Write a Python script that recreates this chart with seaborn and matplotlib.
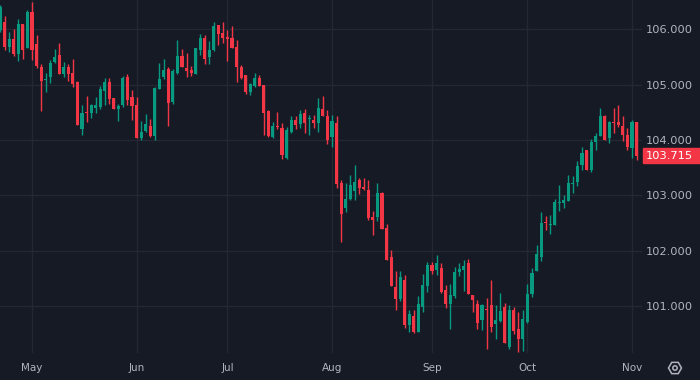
import numpy as np
import pandas as pd
import matplotlib
matplotlib.use("Agg")
import matplotlib.pyplot as plt
from matplotlib.patches import Rectangle, RegularPolygon, Circle
import seaborn as sns

# daily candles, Apr 22 -> Nov 4 (business days)
open_ = [105.99, 106.14, 105.68, 105.83, 105.56, 106.10, 105.67, 106.32, 105.74, 105.32,
         105.08, 105.14, 105.41, 105.54, 105.20, 105.32, 105.21, 105.05, 104.20, 104.51,
         104.49, 104.58, 104.60, 104.89, 105.05, 104.76, 104.56, 104.63, 105.14, 104.78,
         104.63, 104.04, 104.16, 104.25, 104.07, 104.92, 105.14, 105.29, 104.69, 105.21,
         105.52, 105.30, 105.27, 105.20, 105.63, 105.85, 105.50, 105.63, 106.08, 105.94,
         105.86, 105.85, 105.68, 105.32, 105.18, 104.87, 104.98, 105.12, 105.00, 104.53,
         104.06, 104.25, 104.22, 103.68, 104.15, 104.36, 104.29, 104.49, 104.38, 104.36,
         104.31, 104.56, 104.44, 104.06, 104.31, 103.22, 102.77, 102.93, 103.08, 103.28,
         103.15, 103.10, 102.61, 102.61, 103.04, 102.41, 101.89, 101.34, 101.13, 101.47,
         100.66, 100.82, 100.53, 100.98, 101.36, 101.74, 101.65, 101.69, 101.29, 101.04,
         101.18, 101.61, 101.65, 101.78, 101.20, 101.04, 100.75, 100.95, 101.02, 100.67,
         100.73, 100.98, 100.26, 100.93, 100.58, 100.40, 100.71, 101.22, 101.63, 101.89,
         102.52, 102.46, 102.46, 102.86, 102.86, 102.90, 103.21, 103.24, 103.55, 103.82,
         103.46, 103.97, 104.07, 104.44, 104.04, 104.33, 104.33, 104.25, 104.09, 103.86,
         104.33]
high = [106.44, 106.24, 105.95, 106.01, 106.19, 106.10, 106.35, 106.50, 105.90, 105.38,
        105.21, 105.45, 105.65, 105.76, 105.41, 105.38, 105.47, 105.07, 104.63, 104.80,
        104.65, 104.78, 104.98, 105.12, 105.12, 104.76, 104.65, 105.16, 105.20, 104.91,
        104.78, 104.35, 104.47, 104.38, 104.96, 105.39, 105.47, 105.32, 105.29, 105.81,
        105.65, 105.58, 105.34, 105.67, 105.92, 105.90, 105.79, 106.14, 106.08, 106.14,
        105.99, 106.06, 105.81, 105.36, 105.18, 105.03, 105.21, 105.18, 105.00, 104.54,
        104.33, 104.51, 104.31, 104.24, 104.44, 104.44, 104.54, 104.56, 104.45, 104.45,
        104.76, 104.80, 104.54, 104.45, 104.44, 103.28, 103.22, 103.37, 103.55, 103.31,
        103.31, 103.28, 102.72, 103.22, 103.06, 102.48, 102.01, 101.63, 101.63, 101.56,
        100.93, 100.93, 101.18, 101.58, 101.80, 101.80, 101.92, 101.78, 101.38, 101.40,
        101.71, 101.78, 101.83, 101.85, 101.20, 101.11, 101.04, 101.14, 101.47, 101.02,
        101.24, 101.05, 101.02, 100.98, 100.89, 100.93, 101.40, 101.69, 102.10, 102.70,
        102.63, 102.65, 102.93, 103.19, 103.01, 103.37, 103.35, 103.62, 103.88, 103.82,
        104.02, 104.13, 104.58, 104.45, 104.35, 104.58, 104.63, 104.44, 104.22, 104.36,
        104.33]
low = [105.95, 105.63, 105.59, 105.52, 105.43, 105.47, 105.67, 105.45, 105.30, 104.53,
       104.87, 105.03, 105.39, 105.20, 105.14, 105.07, 104.96, 104.27, 104.09, 104.33,
       104.40, 104.49, 104.56, 104.63, 104.65, 104.56, 104.35, 104.60, 104.63, 104.36,
       104.04, 104.00, 104.15, 104.06, 104.00, 104.92, 105.10, 104.25, 104.65, 105.20,
       105.32, 105.14, 105.16, 105.20, 105.54, 105.38, 105.38, 105.61, 105.72, 105.76,
       105.43, 105.67, 105.05, 105.10, 104.83, 104.82, 104.96, 104.98, 104.09, 104.06,
       104.04, 104.20, 103.66, 103.66, 104.13, 104.20, 104.22, 104.13, 104.09, 104.22,
       104.15, 104.44, 103.93, 103.88, 103.13, 102.16, 102.70, 102.92, 102.92, 103.03,
       103.10, 102.56, 102.28, 102.54, 102.39, 101.83, 101.36, 100.93, 101.09, 100.60,
       100.53, 100.51, 100.53, 100.89, 101.25, 101.58, 101.56, 101.24, 100.96, 100.58,
       101.14, 101.54, 101.27, 101.22, 100.89, 100.58, 100.57, 100.22, 100.53, 100.40,
       100.71, 100.33, 100.22, 100.49, 100.17, 100.19, 100.69, 101.16, 101.63, 101.81,
       102.37, 102.30, 102.46, 102.72, 102.77, 102.90, 103.04, 103.17, 103.46, 103.46,
       103.42, 103.82, 104.07, 104.00, 103.95, 104.13, 104.24, 103.98, 103.82, 103.68,
       103.64]
close = [106.41, 105.68, 105.83, 105.56, 106.10, 105.63, 106.32, 105.63, 105.34, 105.07,
         105.09, 105.39, 105.50, 105.20, 105.32, 105.20, 105.01, 104.27, 104.49, 104.49,
         104.63, 104.63, 104.92, 105.05, 104.74, 104.56, 104.62, 105.12, 104.73, 104.62,
         104.04, 104.15, 104.29, 104.07, 104.94, 105.10, 105.27, 104.67, 105.25, 105.52,
         105.32, 105.25, 105.21, 105.67, 105.85, 105.47, 105.63, 106.06, 105.92, 105.85,
         105.83, 105.67, 105.32, 105.12, 104.87, 105.01, 105.12, 104.98, 104.49, 104.07,
         104.25, 104.24, 103.73, 104.18, 104.36, 104.27, 104.47, 104.31, 104.40, 104.31,
         104.58, 104.44, 104.00, 104.35, 103.21, 102.66, 102.93, 103.19, 103.24, 103.13,
         103.12, 102.59, 102.56, 103.04, 102.39, 101.83, 101.36, 101.13, 101.52, 100.66,
         100.86, 100.53, 101.04, 101.38, 101.74, 101.63, 101.78, 101.25, 101.04, 101.20,
         101.61, 101.67, 101.72, 101.22, 101.11, 100.69, 101.02, 100.93, 100.62, 100.75,
         100.91, 100.33, 100.93, 100.55, 100.40, 100.76, 101.22, 101.60, 101.94, 102.50,
         102.50, 102.48, 102.88, 102.88, 102.92, 103.22, 103.22, 103.53, 103.77, 103.46,
         103.97, 104.07, 104.44, 104.00, 104.33, 104.31, 104.27, 104.09, 103.88, 104.33,
         103.715]
price_ticks = [101, 102, 103, 104, 105, 106]

BG = "#161A25"
GRID = "#242833"
TXT = "#B2B5BE"
UP, DOWN = "#089981", "#F23645"

df = pd.DataFrame({"open": open_, "high": high, "low": low, "close": close},
                  index=pd.bdate_range(end="2024-11-04", periods=len(close)))
df["i"] = np.arange(len(df))
df["color"] = np.where(df["close"] >= df["open"], UP, DOWN)

sns.set_theme(style="dark", rc={"axes.facecolor": BG, "figure.facecolor": BG,
                                "savefig.facecolor": BG})
plt.rcParams["font.family"] = ["DejaVu Sans"]

fig = plt.figure(figsize=(7, 3.8), dpi=100)
ax = fig.add_axes([0, 27 / 380, 642 / 700, 353 / 380])

ax.vlines(df["i"], df["low"], df["high"], colors=df["color"], lw=1, zorder=3)
body = (df["close"] - df["open"]).abs().clip(lower=0.02)
ax.bar(df["i"], body, bottom=df[["open", "close"]].min(axis=1), width=0.68,
       color=df["color"], linewidth=0, zorder=4)

ax.set_xlim(-0.05, 141.2)
ax.set_ylim(100.15, 106.533)

# month ticks on first trading day of each month
first = df.groupby(df.index.to_period("M"))["i"].min().iloc[1:]
ax.set_xticks(first.values)
ax.set_xticklabels([p.strftime("%b") for p in first.index])
ax.set_yticks(price_ticks)
ax.set_yticklabels([f"{v:.3f}" for v in price_ticks])
ax.yaxis.tick_right()
ax.tick_params(axis="x", length=0, pad=7, labelsize=7.5, labelcolor=TXT)
ax.tick_params(axis="y", length=0, pad=2.5, labelsize=8.2, labelcolor=TXT)
ax.grid(True, color=GRID, lw=1)
ax.set_axisbelow(True)
sns.despine(ax=ax, left=True, bottom=True, right=True, top=True)

# last price tag
last = df["close"].iloc[-1]
ypx = ax.transData.transform((0, last))[1]
fig.patches.append(Rectangle((643 / 700, (ypx - 7.5) / 380), 57 / 700, 15 / 380,
                             transform=fig.transFigure, color=DOWN, zorder=5))
fig.text(693 / 700, ypx / 380, f"{last:.3f}", ha="right", va="center",
         color="white", fontsize=8.2, zorder=6)

# settings icon
ic = fig.add_axes([667 / 700, 4 / 380, 16 / 700, 16 / 380])
ic.set_xlim(-8, 8)
ic.set_ylim(-8, 8)
ic.axis("off")
ic.add_patch(RegularPolygon((0, 0), 6, radius=6.5, orientation=np.pi / 6,
                            fill=False, ec=TXT, lw=1.1))
ic.add_patch(Circle((0, 0), 2.2, fill=False, ec=TXT, lw=1.1))

fig.savefig("out.png", dpi=100)
